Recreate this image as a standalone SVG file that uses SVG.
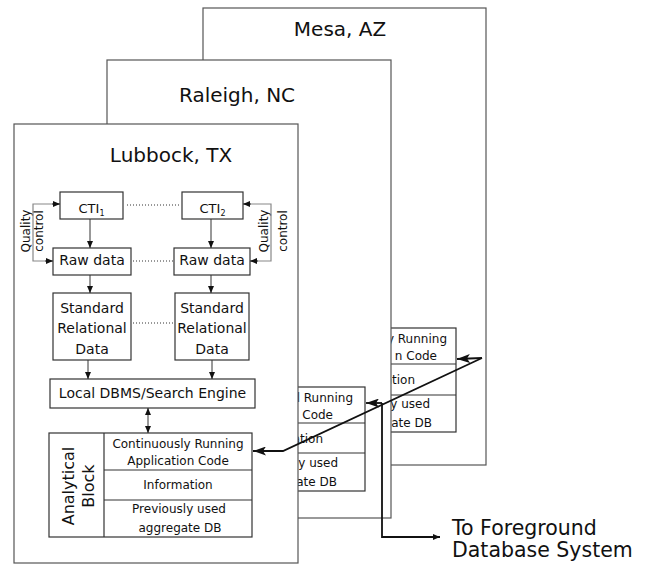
<svg xmlns="http://www.w3.org/2000/svg" width="653" height="574" viewBox="0 0 653 574">
<style>
text{font-family:"DejaVu Sans","Liberation Sans",sans-serif;fill:#111}
.site{fill:#fff;stroke:#555;stroke-width:1.2}
.box{fill:#fff;stroke:#333;stroke-width:1.2}
.t20{font-size:20px;text-anchor:middle}
.t14{font-size:14px;text-anchor:middle}
.t12{font-size:12px;text-anchor:middle}
.te{font-size:12px;text-anchor:end}
.q{font-size:12px;text-anchor:middle}
.a16{font-size:16px;text-anchor:middle}
.dot{stroke:#333;stroke-width:1;stroke-dasharray:1 2;fill:none}
.thin{stroke:#333;stroke-width:1;fill:none;marker-end:url(#sa)}
.qc{stroke:#888;stroke-width:1.2;fill:none}
.big{stroke:#111;stroke-width:1.8;fill:none}
</style>
<defs>
<marker id="sa" markerUnits="userSpaceOnUse" markerWidth="7" markerHeight="6" refX="7" refY="3" orient="auto"><path d="M0,0 L7,3 L0,6 z" fill="#111"/></marker>
<marker id="sb" markerUnits="userSpaceOnUse" markerWidth="7" markerHeight="6" refX="0" refY="3" orient="auto"><path d="M7,0 L0,3 L7,6 z" fill="#111"/></marker>
<marker id="ba" markerUnits="userSpaceOnUse" markerWidth="13" markerHeight="9" refX="13" refY="4.5" orient="auto"><path d="M0,0 L13,4.5 L0,9 L3,4.5 z" fill="#111"/></marker>
</defs>

<g id="mesa">
<rect class="site" x="203" y="8" width="283" height="457"/>
<text class="t20" x="340" y="36">Mesa, AZ</text>
<g id="mesa-analytical">
<rect class="box" x="253" y="328" width="203" height="104"/>
<line x1="308" y1="364" x2="456" y2="364" stroke="#333" stroke-width="1.2"/>
<line x1="308" y1="395" x2="456" y2="395" stroke="#333" stroke-width="1.2"/>
<text class="te" x="447" y="343">y Running</text>
<text class="te" x="437" y="360">n Code</text>
<text class="te" x="415" y="384">ation</text>
<text class="te" x="430" y="408">y used</text>
<text class="te" x="432" y="427">ate DB</text>
</g>
</g>

<g id="raleigh">
<rect class="site" x="107" y="60" width="284" height="458"/>
<text class="t20" x="237" y="102">Raleigh, NC</text>
<g id="raleigh-analytical">
<rect class="box" x="162" y="387" width="203" height="104"/>
<line x1="217" y1="423" x2="365" y2="423" stroke="#333" stroke-width="1.2"/>
<line x1="217" y1="453" x2="365" y2="453" stroke="#333" stroke-width="1.2"/>
<text class="te" x="353" y="402">l Running</text>
<text class="te" x="333" y="419">Code</text>
<text class="te" x="323" y="443">ation</text>
<text class="te" x="338" y="467">y used</text>
<text class="te" x="337" y="486">ate DB</text>
</g>
</g>

<g id="lubbock">
<rect class="site" x="14" y="124" width="284" height="439"/>
<text class="t20" x="171" y="162">Lubbock, TX</text>
</g>

<g id="cti1"><rect class="box" x="60" y="192" width="63" height="27"/><text class="t14" x="91.5" y="213" style="font-size:13px">CTI<tspan font-size="8" dy="3">1</tspan></text></g>
<g id="cti2"><rect class="box" x="182" y="192" width="61" height="27"/><text class="t14" x="212.5" y="213" style="font-size:13px">CTI<tspan font-size="8" dy="3">2</tspan></text></g>
<g id="raw1"><rect class="box" x="53" y="248" width="78" height="27"/><text class="t14" x="92" y="265">Raw data</text></g>
<g id="raw2"><rect class="box" x="174" y="248" width="76" height="27"/><text class="t14" x="212" y="265">Raw data</text></g>
<g id="srd1"><rect class="box" x="53" y="293" width="78" height="67"/><text class="t14" x="92" y="313">Standard</text><text class="t14" x="92" y="333">Relational</text><text class="t14" x="92" y="354">Data</text></g>
<g id="srd2"><rect class="box" x="175" y="293" width="74" height="67"/><text class="t14" x="212" y="313">Standard</text><text class="t14" x="212" y="333">Relational</text><text class="t14" x="212" y="354">Data</text></g>
<g id="dbms"><rect class="box" x="50" y="379" width="205" height="29"/><text class="t14" x="152.5" y="398">Local DBMS/Search Engine</text></g>
<g id="analytical">
<rect class="box" x="49" y="433" width="203" height="104"/>
<line x1="104" y1="433" x2="104" y2="537" stroke="#333" stroke-width="1.2"/>
<line x1="104" y1="470" x2="252" y2="470" stroke="#333" stroke-width="1.2"/>
<line x1="104" y1="500" x2="252" y2="500" stroke="#333" stroke-width="1.2"/>
<text class="a16" transform="translate(74,486) rotate(-90)">Analytical</text>
<text class="a16" transform="translate(94,486) rotate(-90)">Block</text>
<text class="t12" x="178" y="448">Continuously Running</text>
<text class="t12" x="178" y="465">Application Code</text>
<text class="t12" x="178" y="489">Information</text>
<text class="t12" x="179" y="513">Previously used</text>
<text class="t12" x="180" y="532">aggregate DB</text>
</g>
<g id="qc-labels">
<text class="q" transform="translate(30,231) rotate(-90)">Quality</text>
<text class="q" transform="translate(43,231) rotate(-90)">control</text>
<text class="q" transform="translate(268,231) rotate(-90)">Quality</text>
<text class="q" transform="translate(287,231) rotate(-90)">control</text>
</g>
<g id="foreground-label">
<text x="452" y="535" style="font-size:20.5px">To Foreground</text>
<text x="452" y="557" style="font-size:20.5px">Database System</text>
</g>

<g id="connectors">
<line class="dot" x1="127" y1="205" x2="180" y2="205"/>
<line class="dot" x1="133" y1="261" x2="173" y2="261"/>
<line class="dot" x1="133" y1="323" x2="174" y2="323"/>
<line class="thin" x1="90" y1="219" x2="90" y2="248"/>
<line class="thin" x1="211" y1="219" x2="211" y2="248"/>
<line class="thin" x1="90" y1="275" x2="90" y2="293"/>
<line class="thin" x1="211" y1="275" x2="211" y2="293"/>
<line class="thin" x1="88" y1="360" x2="88" y2="379"/>
<line class="thin" x1="212" y1="360" x2="212" y2="379"/>
<line x1="148" y1="408" x2="148" y2="433" stroke="#333" stroke-width="1" marker-start="url(#sb)" marker-end="url(#sa)"/>
<path class="qc" d="M60,204 H33 V261 H53"/>
<path class="qc" d="M243,204 H271 V261 H250"/>
<line class="thin" x1="52" y1="204" x2="60" y2="204"/>
<line class="thin" x1="45" y1="261" x2="53" y2="261"/>
<line class="thin" x1="251" y1="204" x2="243" y2="204"/>
<line class="thin" x1="258" y1="261" x2="250" y2="261"/>
<path class="big" d="M482,358 L283,451 L253,451" marker-end="url(#ba)"/>
<path class="big" d="M482,358 L457,359" marker-end="url(#ba)"/>
<path class="big" d="M382,403 L366,403" marker-end="url(#ba)"/>
<path class="big" d="M382,403 V537 H440" marker-end="url(#sa)"/>
</g>
</svg>
